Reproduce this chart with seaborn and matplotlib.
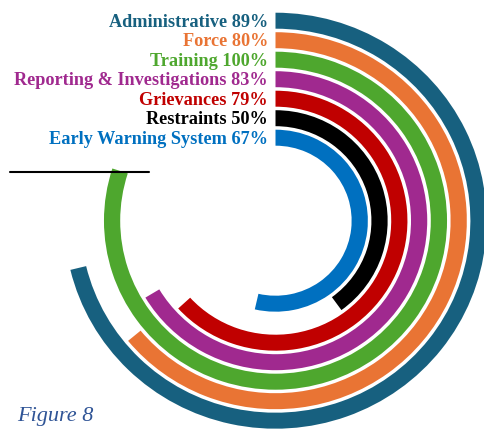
import numpy as np
import pandas as pd
import matplotlib
matplotlib.use("Agg")
import matplotlib.pyplot as plt
from matplotlib.lines import Line2D
import seaborn as sns

# ---- data (outermost ring first) ----
categories = ["Administrative", "Force", "Training", "Reporting & Investigations",
              "Grievances", "Restraints", "Early Warning System"]
percentages = [89, 80, 100, 83, 79, 50, 67]
colors = ["#17607F", "#E97434", "#4EA72E", "#A0298F", "#C00000", "#000000", "#0070C0"]
caption = "Figure 8"

# full scale (100%) spans 80% of the circle
FULL_SCALE = 0.8 * 2 * np.pi

sns.set_theme(style="white")
plt.rcParams["font.family"] = ["Liberation Serif", "DejaVu Serif"]

W, H = 485, 431
fig = plt.figure(figsize=(W / 100, H / 100), dpi=100)

# geometry in pixels
cx, cy = 275.5, 221.7          # centre (from top-left)
pitch = 19.5                   # ring spacing in px
r_inner_center = 83.0          # centre radius of innermost ring
top_lim = 6.5
bottom_lim = -r_inner_center / pitch
R = (top_lim - bottom_lim) * pitch
sx = 1.015
ax = fig.add_axes([(cx - R * sx) / W, (H - cy - R) / H, 2 * R * sx / W, 2 * R / H],
                  projection="polar")

# innermost first so that category index == ring index from centre
order = categories[::-1]
df = pd.DataFrame({
    "category": categories,
    "pct": percentages,
})
df["theta"] = df["pct"] / 100 * FULL_SCALE
pal = dict(zip(categories, colors))

sns.barplot(data=df, x="theta", y="category", order=order, hue="category",
            palette=pal, orient="h", width=0.82, saturation=1, legend=False,
            linewidth=0, ax=ax)

ax.set_theta_zero_location("N")
ax.set_theta_direction(-1)
ax.set_xlim(0, 2 * np.pi)
ax.set_ylim(bottom_lim, top_lim)
ax.set_aspect("auto")
ax.set_axis_off()

# labels at the start of each ring
for cat, pct, col in zip(categories, percentages, colors):
    j = order.index(cat)
    ax.annotate(f"{cat} {pct}%", xy=(0, j), xytext=(-7.5, -5),
                textcoords="offset pixels", ha="right", va="baseline",
                fontsize=13.15, fontweight="bold", color=col,
                family=["Liberation Serif", "DejaVu Serif"], annotation_clip=False)

# decorative horizontal rule
fig.add_artist(Line2D([10.5 / W, 148.5 / W], [1 - 172.5 / H, 1 - 172.5 / H],
                      color="black", linewidth=1.5, transform=fig.transFigure))

fig.text(17 / W, 1 - 421.5 / H, caption, fontsize=16, style="italic",
         color="#2F5496", ha="left", va="baseline",
         family=["Liberation Serif", "DejaVu Serif"])

fig.savefig("out.png", dpi=100)
